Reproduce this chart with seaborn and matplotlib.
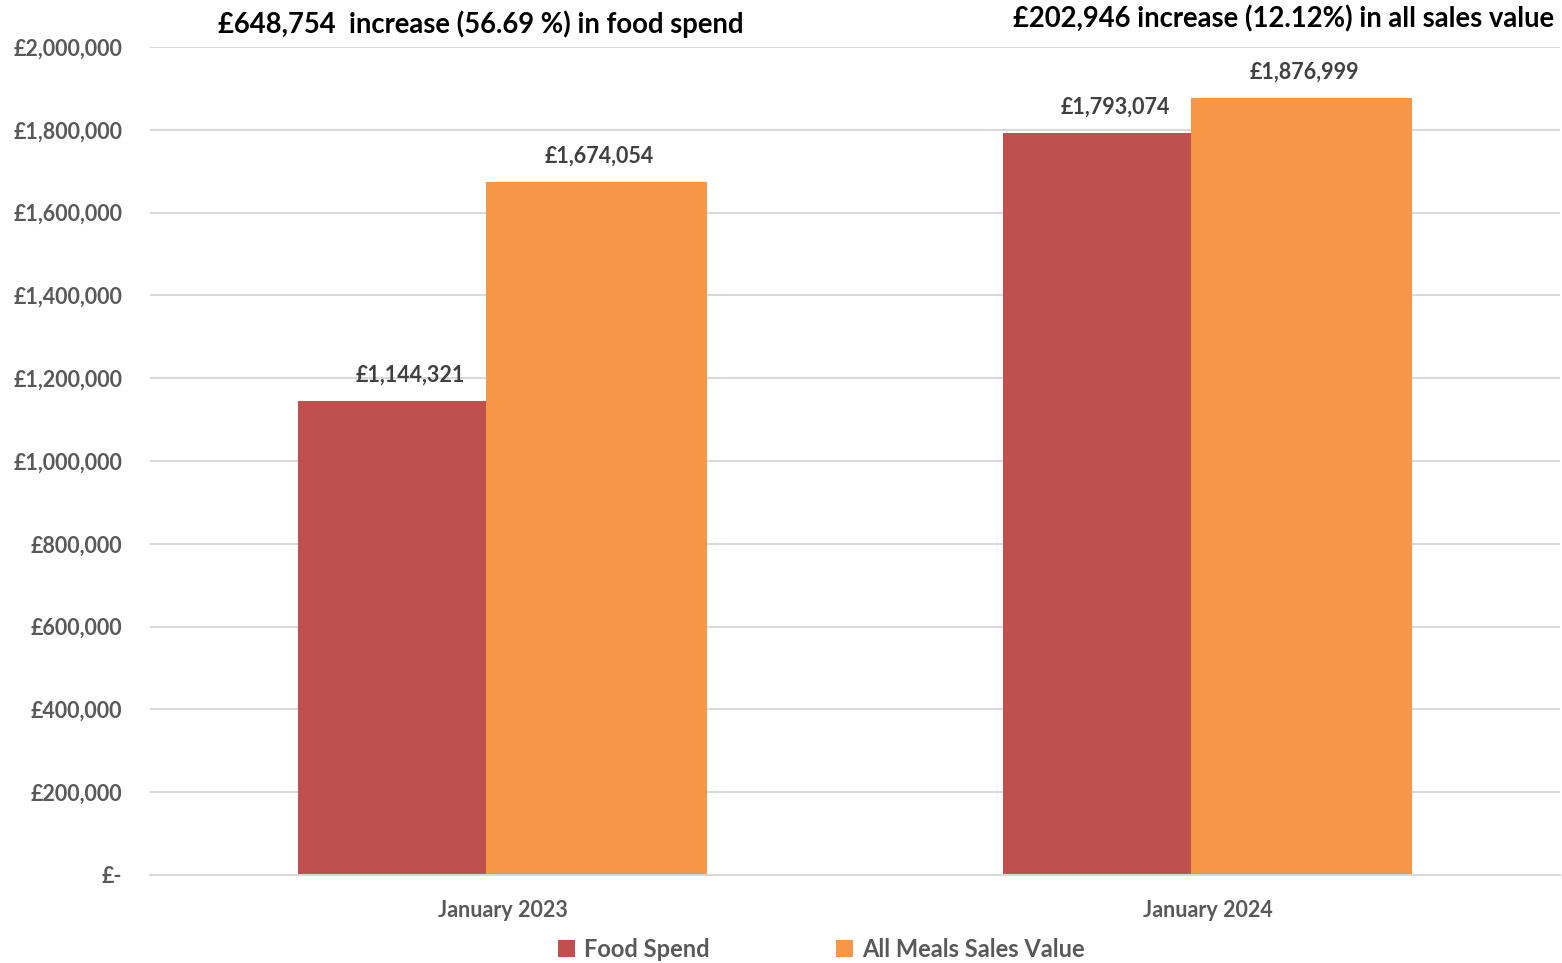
import pandas as pd
import matplotlib
matplotlib.use("Agg")
import matplotlib.pyplot as plt
import seaborn as sns
from matplotlib.ticker import FuncFormatter

# Values
months = ["January 2023", "January 2024"]
food_spend = [1144321, 1793074]
meals_sales = [1674054, 1876999]
series_names = ["Food Spend", "All Meals Sales Value"]
headline_food = "£648,754  increase (56.69 %) in food spend"
headline_sales = "£202,946 increase (12.12%) in all sales value"

df = pd.DataFrame({
    "Month": months * 2,
    "Value": food_spend + meals_sales,
    "Series": [series_names[0]] * 2 + [series_names[1]] * 2,
})

sns.set_theme(style="white")
plt.rcParams["font.family"] = ["Lato", "DejaVu Sans"]
plt.rcParams["font.weight"] = "bold"

colors = {"Food Spend": "#C0504D", "All Meals Sales Value": "#F79646"}

fig = plt.figure(figsize=(15.62, 9.63), dpi=100)
ax = fig.add_axes([0.096, 0.0914, 0.9027, 0.8598])

sns.barplot(data=df, x="Month", y="Value", hue="Series", palette=colors,
            hue_order=series_names, order=months, ax=ax, saturation=1,
            errorbar=None, legend=False)

# Excel draws the two series with slightly different widths
left_edge = -0.290
split = -0.023
right_edge = 0.290
for i, bar in enumerate(ax.containers[0]):
    bar.set_x(i + left_edge)
    bar.set_width(split - left_edge)
    bar.set_linewidth(0)
for i, bar in enumerate(ax.containers[1]):
    bar.set_x(i + split)
    bar.set_width(right_edge - split)
    bar.set_linewidth(0)

# data labels (Excel puts them a little right of centre)
for cont, dx in zip(ax.containers, [13, 2]):
    for bar in cont:
        h = bar.get_height()
        ax.annotate(f"£{h:,.0f}", (bar.get_x() + bar.get_width() / 2, h),
                    xytext=(dx, 11), textcoords="offset points",
                    ha="center", va="bottom", fontsize=15.5,
                    fontweight="bold", color="#404040")

ax.set_xlim(-0.5, 1.5)
ax.set_ylim(0, 2000000)
ax.set_yticks(range(0, 2000001, 200000))
ax.yaxis.set_major_formatter(FuncFormatter(
    lambda v, p: "£-" if v == 0 else f"£{v:,.0f}"))
ax.grid(axis="y", color="#D9D9D9", linewidth=1.5)
ax.set_axisbelow(True)
for s in ["top", "right", "left"]:
    ax.spines[s].set_visible(False)
ax.spines["bottom"].set_color("#D9D9D9")
ax.spines["bottom"].set_linewidth(1.5)
ax.tick_params(axis="y", length=0, pad=20, labelsize=15.5, labelcolor="#595959")
ax.tick_params(axis="x", length=0, pad=18, labelsize=15.5, labelcolor="#595959")
for lbl in ax.get_xticklabels() + ax.get_yticklabels():
    lbl.set_fontweight("bold")
ax.set_xlabel("")
ax.set_ylabel("")

handles = [ax.containers[0][0], ax.containers[1][0]]
leg = fig.legend(handles, series_names, loc="center", ncol=2,
                 bbox_to_anchor=(0.526, 0.014), frameon=False,
                 handlelength=0.7, handleheight=0.7, handletextpad=0.4,
                 columnspacing=5.35, prop={"size": 17, "weight": "bold"})
for t in leg.get_texts():
    t.set_color("#595959")

fig.text(0.308, 0.975, headline_food, ha="center", va="center",
         fontsize=19.8, fontweight="bold", color="black")
fig.text(0.8217, 0.980, headline_sales, ha="center", va="center",
         fontsize=19.8, fontweight="bold", color="black")

fig.savefig("out.png", dpi=100)
